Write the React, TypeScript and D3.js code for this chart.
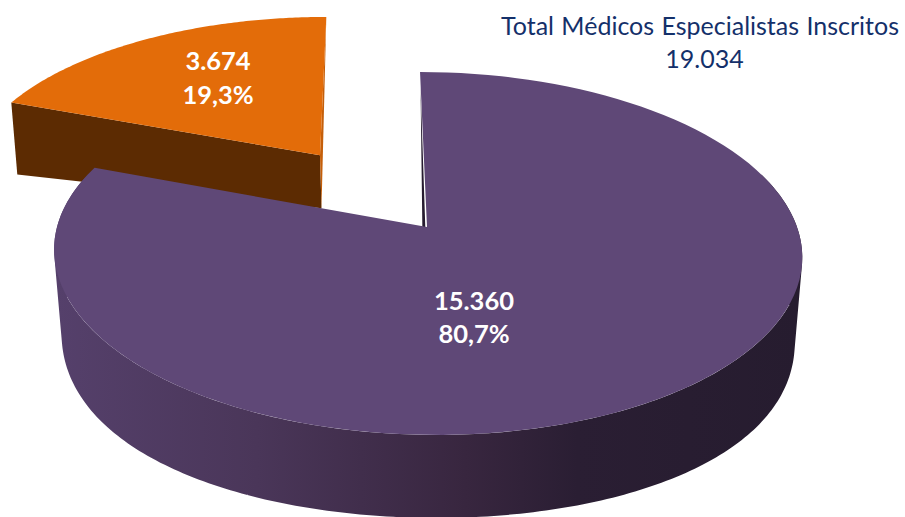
import React from "react";
import * as d3 from "d3";

const categories = ["Purple", "Orange"];
const values = [15360, 3674];
const valueLabels = ["15.360", "3.674"];
const percentLabels = ["80,7%", "19,3%"];
const titleLines = ["Total Médicos Especialistas Inscritos", "19.034"];

const W = 905, H = 517;
const CX = 427, CY = 227, RX = 370, RY = 177.6, K = 0.146, SHEAR = 0.045;
const EXPLODE = 0.523;
const FONT = "Lato, 'Open Sans', sans-serif";

type P = [number, number];
// perspective projection of a point on the unit pie plane to the screen
const project = (u: number, v: number): P => {
  const d = 1 + K * v;
  const y = CY - (RY * v) / d;
  const x = CX + (RX * u) / d + SHEAR * (y - CY);
  return [x, y];
};
const purpleDepth = (u: number, v: number) => 49 - 34 * v + 31 * u * u;
const purpleLower = (u: number, v: number): P => {
  const [x, y] = project(u, v);
  return [CX + (x - CX) * 0.98, y + purpleDepth(u, v)];
};
const line = d3.line<P>();
const arcs = d3.pie<number>().sort(null)(values);
const steps = d3.range(0, 121).map((i) => i / 120);
const lerp = d3.interpolateNumber;
// same winding for every quad, so that the union of the swept wall has no holes
const oriented = (q: P[]) => (d3.polygonArea(q) < 0 ? q.slice().reverse() : q);

export default function App() {
  const a = arcs[0], b = arcs[1];
  // purple slice
  const purpleTop: P[] = [
    project(0, 0),
    ...steps.map((t) => {
      const th = lerp(a.startAngle, a.endAngle)(t);
      return project(Math.sin(th), Math.cos(th));
    }),
  ];
  // outer wall swept quads (single path = no seams)
  const wallAngles = d3.range(0, 241).map((i) => lerp(Math.PI * 0.4, a.endAngle)(i / 240));
  let wallPath = "";
  wallAngles.slice(1).forEach((th, i) => {
    const t0 = wallAngles[i];
    const quad: P[] = [
      project(Math.sin(t0), Math.cos(t0)),
      project(Math.sin(th), Math.cos(th)),
      purpleLower(Math.sin(th), Math.cos(th)),
      purpleLower(Math.sin(t0), Math.cos(t0)),
    ];
    wallPath += line(oriented(quad)) + "Z";
  });
  // inner cut wall of the purple slice
  const innerTop = project(0, 1);
  const innerApex = project(0, 0);
  const innerWall: P[] = [
    innerTop,
    [innerTop[0] + 0.5, innerTop[1] + 15],
    [innerApex[0] - 4, innerApex[1] + 50],
    [innerApex[0], innerApex[1] + 50],
  ];

  // orange slice, moved out along its middle angle
  const mid = (b.startAngle + b.endAngle) / 2;
  const ou = EXPLODE * Math.sin(mid), ov = EXPLODE * Math.cos(mid);
  const orangeRim = steps.map((t) => {
    const th = lerp(b.startAngle, b.endAngle)(t);
    return project(Math.sin(th) + ou, Math.cos(th) + ov);
  });
  const oApex = project(ou, ov);
  const orangeTop: P[] = [oApex, ...orangeRim];
  const oLeft = orangeRim[0];
  const oRight = orangeRim[orangeRim.length - 1];
  const oLeftLow: P = [oLeft[0] + 6, oLeft[1] + 72];
  const oApexLow: P = [oApex[0] + 1.5, oApex[1] + 53];

  const labelPos = [
    { x: 474, y0: 310, y1: 343 },
    { x: 218, y0: 70, y1: 104 },
  ];

  return (
    <svg width={W} height={H} style={{ position: "absolute", left: 0, top: 0 }}>
      <defs>
        <linearGradient id="wall" gradientUnits="userSpaceOnUse" x1={57} x2={800} y1={0} y2={0}>
          <stop offset="0" stopColor="#55406b" />
          <stop offset="0.27" stopColor="#4a3659" />
          <stop offset="0.55" stopColor="#38263f" />
          <stop offset="0.7" stopColor="#2a1e33" />
          <stop offset="1" stopColor="#261c2f" />
        </linearGradient>
      </defs>
      {/* orange slice */}
      <path d={line([oLeft, oApex, oApexLow, oLeftLow]) + "Z"} fill="#5c2b02" />
      <path d={line([oRight, oApexLow, oApex]) + "Z"} fill="#c55f0a" />
      <path d={line(orangeTop) + "Z"} fill="#e36c09" />
      {/* purple slice */}
      <path d={wallPath} fill="url(#wall)" />
      <path d={line(innerWall) + "Z"} fill="#261c2f" />
      <path d={line(purpleTop) + "Z"} fill="#5f4877" />
      {/* labels */}
      {categories.map((c, i) => (
        <g key={c} fontFamily={FONT} fontWeight={700} fontSize={25.5} fill="#fff" textAnchor="middle">
          <text x={labelPos[i].x} y={labelPos[i].y0}>{valueLabels[i]}</text>
          <text x={labelPos[i].x} y={labelPos[i].y1}>{percentLabels[i]}</text>
        </g>
      ))}
      <g fontFamily={FONT} fontSize={25} fill="#14306a" textAnchor="middle" style={{ wordSpacing: 1 }}>
        <text x={700} y={35}>{titleLines[0]}</text>
        <text x={704.5} y={68}>{titleLines[1]}</text>
      </g>
    </svg>
  );
}
